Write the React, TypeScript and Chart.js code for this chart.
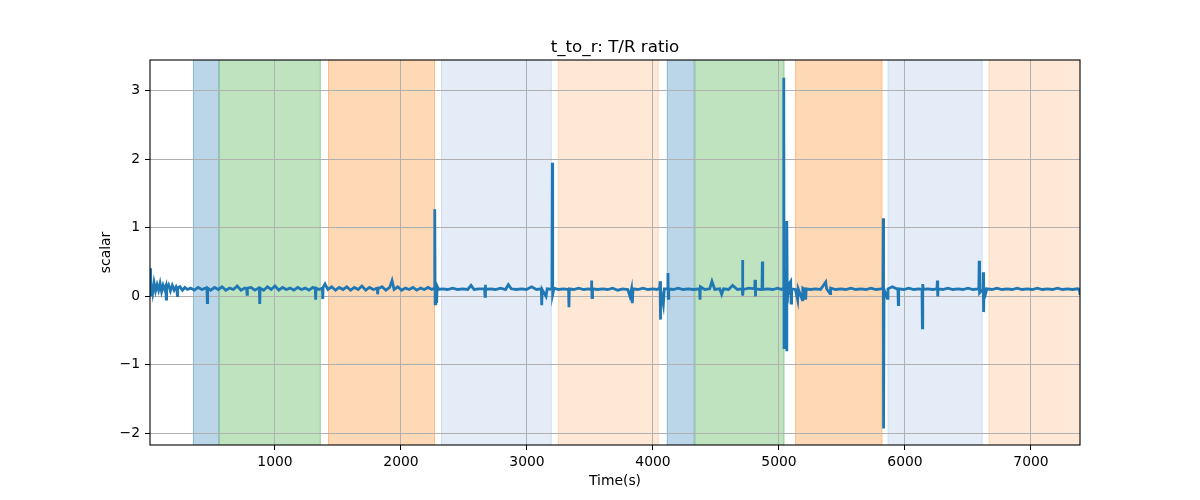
import React, { useEffect, useRef } from 'react';
import { Chart, registerables } from 'chart.js';

Chart.register(...registerables);

const TITLE = 't_to_r: T/R ratio';
const X_LABEL = 'Time(s)';
const Y_LABEL = 'scalar';
const X_MIN = 8;
const X_MAX = 7389;
const Y_MIN = -2.17;
const Y_MAX = 3.45;
const xTicks = [1000, 2000, 3000, 4000, 5000, 6000, 7000];
const yTicks = [-2, -1, 0, 1, 2, 3];

// shaded phases (seconds)
const spanStarts = [349, 556, 1421, 2318, 3245, 4110, 4330, 5128, 5862, 6664];
const spanEnds = [556, 1363, 2270, 3196, 4045, 4330, 5043, 5820, 6616, 7450];
const spanKinds = [0, 1, 2, 3, 4, 0, 1, 2, 3, 4];
const spanColors = [
  'rgba(31,119,180,0.3)',
  'rgba(44,160,44,0.3)',
  'rgba(255,127,14,0.3)',
  'rgba(120,160,220,0.2)',
  'rgba(255,127,14,0.17)',
];

// [time (s), T/R ratio]
const traceA: [number, number][] = [
  [8, 0.16], [12, 0.41], [16, 0.02], [22, 0.18], [30, 0.06], [40, 0.2], [52, 0.08], [64, 0.17],
  [76, 0.09], [88, 0.19], [100, 0.07], [112, 0.16], [124, 0.1], [134, 0.15], [137, -0.04], [140, 0.12],
  [155, 0.17], [170, 0.08], [185, 0.16], [200, 0.09], [215, 0.14], [222, 0.11], [225, 0.01], [228, 0.12],
  [245, 0.14], [265, 0.09], [285, 0.13], [305, 0.1], [330, 0.12], [360, 0.09], [390, 0.13], [420, 0.1],
  [450, 0.12], [460, 0.11], [463, -0.09], [466, 0.12], [490, 0.09], [520, 0.13], [550, 0.1], [580, 0.14],
  [610, 0.09], [640, 0.12], [670, 0.1], [700, 0.15], [730, 0.09], [760, 0.12], [775, 0.11], [778, 0.03],
  [781, 0.12], [810, 0.13], [840, 0.09], [870, 0.12], [876, 0.1], [879, -0.11], [882, 0.12], [910, 0.09],
  [940, 0.14], [970, 0.1], [1000, 0.15], [1030, 0.09], [1060, 0.13], [1090, 0.1], [1120, 0.12], [1150, 0.09],
  [1180, 0.13], [1210, 0.1], [1240, 0.12], [1270, 0.09], [1300, 0.13], [1320, 0.11], [1323, -0.05], [1326, 0.12],
  [1350, 0.1], [1376, 0.12], [1379, -0.04], [1382, 0.13], [1397, 0.18], [1420, 0.1], [1450, 0.14], [1480, 0.09],
  [1510, 0.13], [1540, 0.1], [1570, 0.14], [1600, 0.09], [1630, 0.13], [1660, 0.1], [1690, 0.15], [1720, 0.09],
  [1750, 0.13], [1780, 0.1], [1812, 0.12], [1815, 0.03], [1818, 0.11], [1850, 0.14], [1880, 0.09], [1910, 0.13],
  [1929, 0.23], [1945, 0.1], [1975, 0.14], [2005, 0.09], [2035, 0.12], [2065, 0.1], [2095, 0.13], [2125, 0.09],
  [2155, 0.12], [2185, 0.1], [2215, 0.13], [2245, 0.1], [2265, 0.12], [2268, 1.27], [2271, -0.11], [2276, 0.11],
  [2283, -0.1], [2287, 0.15], [2300, 0.1],
];

const traceB: [number, number][] = [
  [2330, 0.11], [2370, 0.1], [2410, 0.12], [2450, 0.1], [2490, 0.11], [2530, 0.1], [2556, 0.16], [2580, 0.1],
  [2620, 0.11], [2664, 0.11], [2667, 0.0], [2669, 0.17], [2672, 0.1], [2710, 0.11], [2750, 0.1], [2790, 0.12],
  [2830, 0.1], [2852, 0.17], [2875, 0.11], [2915, 0.1], [2955, 0.11], [2995, 0.1], [3037, 0.14], [3075, 0.1],
  [3114, 0.11], [3117, -0.13], [3120, 0.1], [3151, 0.0], [3160, 0.11], [3198, 0.1], [3201, 1.95], [3204, 0.03],
  [3215, 0.12], [3250, 0.1], [3290, 0.11], [3330, 0.1], [3333, -0.16], [3336, 0.11], [3370, 0.1], [3410, 0.12],
  [3450, 0.1], [3490, 0.11], [3510, 0.1], [3513, 0.23], [3516, -0.02], [3520, 0.11], [3560, 0.1], [3600, 0.11],
  [3640, 0.1], [3680, 0.12], [3720, 0.09], [3760, 0.11], [3800, 0.1], [3817, 0.0], [3830, 0.11], [3836, -0.1],
  [3842, 0.11], [3880, 0.1], [3920, 0.12], [3960, 0.1], [4000, 0.11], [4030, 0.1], [4053, 0.12], [4056, 0.22],
  [4058, -0.34], [4062, 0.1], [4082, -0.12], [4090, 0.11], [4116, 0.11], [4119, 0.34], [4121, -0.03], [4125, 0.11],
  [4160, 0.1], [4200, 0.12], [4240, 0.1], [4280, 0.11], [4320, 0.1], [4370, 0.11], [4373, -0.05], [4376, 0.14],
  [4410, 0.1], [4450, 0.11], [4468, 0.22], [4490, 0.1], [4530, 0.11], [4545, 0.03], [4560, 0.11], [4600, 0.1],
  [4632, 0.16], [4670, 0.1],
];

const traceC: [number, number][] = [
  [4708, 0.11], [4711, 0.53], [4713, 0.01], [4716, 0.1], [4760, 0.12], [4807, 0.11], [4810, 0.24], [4812, 0.0],
  [4816, 0.11], [4850, 0.1], [4865, 0.11], [4868, 0.51], [4871, 0.1], [4910, 0.11], [4950, 0.1], [4990, 0.12],
  [5020, 0.1], [5035, 0.12], [5038, 3.19], [5040, -0.75], [5044, 0.15], [5050, -0.5], [5056, 0.4], [5061, -0.8],
  [5063, 1.1], [5066, -0.1], [5072, 0.15], [5078, 0.02], [5086, 0.2], [5093, 0.22], [5096, -0.1], [5100, 0.11],
  [5130, 0.1], [5148, -0.05], [5152, 0.11], [5185, -0.05], [5189, 0.12], [5206, 0.1], [5212, -0.05], [5216, 0.11],
  [5250, 0.1], [5290, 0.11], [5330, 0.1], [5371, 0.21], [5378, 0.11], [5405, 0.04], [5410, 0.12], [5450, 0.1],
  [5490, 0.11], [5530, 0.1], [5570, 0.12], [5610, 0.1], [5650, 0.11], [5690, 0.1], [5730, 0.12], [5770, 0.1],
  [5810, 0.11], [5825, 0.12], [5828, 1.14], [5830, -1.93], [5834, 0.1], [5860, -0.03], [5865, 0.11], [5900, 0.14],
  [5944, 0.1], [5947, -0.12], [5950, 0.11], [5990, 0.1], [6030, 0.12], [6070, 0.1], [6110, 0.11], [6135, 0.1],
  [6138, -0.46], [6141, 0.18], [6145, 0.1], [6180, 0.11], [6220, 0.1], [6254, 0.11], [6257, 0.23], [6260, 0.0],
  [6263, 0.11], [6300, 0.1], [6340, 0.12], [6380, 0.1], [6420, 0.11], [6460, 0.1], [6500, 0.12], [6540, 0.1],
  [6586, 0.11], [6589, 0.52], [6592, 0.05], [6618, 0.1], [6621, 0.35], [6624, -0.23], [6628, 0.12], [6640, 0.04],
  [6650, 0.11], [6690, 0.1], [6730, 0.12], [6770, 0.1], [6810, 0.11], [6850, 0.1], [6890, 0.12], [6930, 0.1],
  [6970, 0.11], [7010, 0.1], [7050, 0.12], [7090, 0.1], [7130, 0.11], [7170, 0.1], [7210, 0.12], [7250, 0.1],
  [7290, 0.11], [7330, 0.1], [7370, 0.11], [7385, 0.1], [7389, 0.02],
];

const FONT = '"DejaVu Sans", sans-serif';

const spansPlugin = {
  id: 'phaseSpans',
  beforeDraw(chart: any) {
    const { ctx, chartArea, scales } = chart;
    const xs = scales.x;
    ctx.save();
    ctx.beginPath();
    ctx.rect(chartArea.left, chartArea.top, chartArea.right - chartArea.left, chartArea.bottom - chartArea.top);
    ctx.clip();
    for (let i = 0; i < spanStarts.length; i++) {
      const x0 = xs.getPixelForValue(spanStarts[i]);
      const x1 = xs.getPixelForValue(spanEnds[i]);
      const c = spanColors[spanKinds[i]];
      ctx.fillStyle = c;
      ctx.strokeStyle = c;
      ctx.lineWidth = 1;
      ctx.fillRect(x0, chartArea.top, x1 - x0, chartArea.bottom - chartArea.top);
      ctx.strokeRect(x0 + 0.5, chartArea.top - 2, x1 - x0 - 1, chartArea.bottom - chartArea.top + 4);
    }
    ctx.restore();
  },
  afterDraw(chart: any) {
    const { ctx, chartArea } = chart;
    ctx.save();
    ctx.strokeStyle = '#000';
    ctx.lineWidth = 1.1;
    ctx.strokeRect(chartArea.left, chartArea.top, chartArea.right - chartArea.left, chartArea.bottom - chartArea.top);
    ctx.fillStyle = '#000';
    ctx.font = `16.7px ${FONT}`;
    ctx.textAlign = 'center';
    ctx.textBaseline = 'alphabetic';
    ctx.fillText(TITLE, (chartArea.left + chartArea.right) / 2, chartArea.top - 8.5);
    ctx.restore();
  },
};

const fmt = (v: number) => (v < 0 ? '\u2212' + Math.abs(v) : String(v));

export default function App() {
  const ref = useRef<HTMLCanvasElement>(null);

  useEffect(() => {
    if (!ref.current) return;
    const data = [...traceA, ...traceB, ...traceC].map(([x, y]) => ({ x, y }));
    const chart = new Chart(ref.current, {
      type: 'line',
      data: {
        datasets: [
          {
            data,
            borderColor: '#1f77b4',
            borderWidth: 2.8,
            borderJoinStyle: 'miter',
            pointRadius: 0,
            tension: 0,
            fill: false,
          },
        ],
      },
      options: {
        animation: false,
        responsive: false,
        maintainAspectRatio: false,
        layout: { padding: { left: 0, right: 120, top: 60, bottom: 0 } },
        plugins: {
          legend: { display: false },
          tooltip: { enabled: false },
          title: { display: false },
        },
        scales: {
          x: {
            type: 'linear',
            min: X_MIN,
            max: X_MAX,
            afterBuildTicks: (s: any) => {
              s.ticks = xTicks.map((v) => ({ value: v }));
            },
            afterFit: (s: any) => {
              s.height = 55;
            },
            grid: { color: '#b0b0b0', lineWidth: 1, tickColor: '#000', tickLength: 5 },
            border: { display: false },
            ticks: {
              color: '#000',
              font: { family: FONT, size: 13.9 },
              padding: 4,
              maxRotation: 0,
              autoSkip: false,
              callback: (v: any) => fmt(Number(v)),
            },
            title: {
              display: true,
              text: X_LABEL,
              color: '#000',
              font: { family: FONT, size: 13.9 },
              padding: { top: 0, bottom: 10.5 },
            },
          },
          y: {
            type: 'linear',
            min: Y_MIN,
            max: Y_MAX,
            afterBuildTicks: (s: any) => {
              s.ticks = yTicks.map((v) => ({ value: v }));
            },
            afterFit: (s: any) => {
              s.width = 150;
            },
            grid: { color: '#b0b0b0', lineWidth: 1, tickColor: '#000', tickLength: 5 },
            border: { display: false },
            ticks: {
              color: '#000',
              font: { family: FONT, size: 13.9 },
              padding: 5,
              autoSkip: false,
              callback: (v: any) => fmt(Number(v)),
            },
            title: {
              display: true,
              text: Y_LABEL,
              color: '#000',
              font: { family: FONT, size: 13.9 },
              padding: { top: 98.5, bottom: 0 },
            },
          },
        },
      },
      plugins: [spansPlugin],
    });
    return () => chart.destroy();
  }, []);

  return (
    <div style={{ position: 'absolute', left: 0, top: 0, width: 1200, height: 500, background: '#fff' }}>
      <canvas ref={ref} width={1200} height={500} />
    </div>
  );
}
